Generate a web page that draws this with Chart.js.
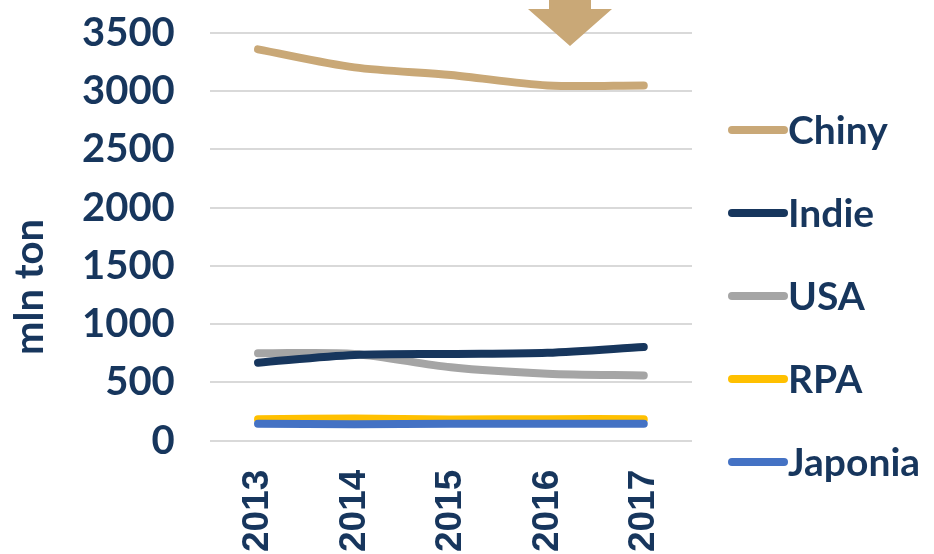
<!DOCTYPE html>
<html>
<head>
<meta charset="utf-8">
<script src="https://cdn.jsdelivr.net/npm/chart.js@4.4.1/dist/chart.umd.min.js"></script>
<style>
  html, body { margin: 0; padding: 0; background: #fff; }
  #wrap { width: 934px; height: 554px; position: relative; }
</style>
</head>
<body>
<div id="wrap"><canvas id="lineChart"></canvas></div>
<script>
// data
var years = ['2013', '2014', '2015', '2016', '2017'];
var chiny = [3360, 3205, 3140, 3050, 3050];
var indie = [670, 735, 745, 755, 805];
var usa = [750, 745, 630, 575, 560];
var rpa = [185, 190, 182, 185, 185];
var japonia = [145, 142, 145, 145, 145];
var yTicks = [0, 500, 1000, 1500, 2000, 2500, 3000, 3500];

var seriesNames = ['Chiny', 'Indie', 'USA', 'RPA', 'Japonia'];
var seriesColors = ['#C9A877', '#17365D', '#A5A5A5', '#FFC000', '#4472C4'];
var textColor = '#17365D';
var axisTitle = 'mln ton';

// legend on the right, axis title and the arrow at the top
var extras = {
    id: 'extras',
    afterDraw: function (chart) {
        var ctx = chart.ctx;
        var area = chart.chartArea;
        ctx.save();
        ctx.lineCap = 'round';
        ctx.lineWidth = 8;
        ctx.font = 'bold 39px Lato';
        ctx.textBaseline = 'middle';
        ctx.textAlign = 'left';
        var x0 = area.right + 40;
        for (var i = 0; i < chart.data.datasets.length; i++) {
            var ds = chart.data.datasets[i];
            var y = 130 + i * 83;
            ctx.strokeStyle = ds.borderColor;
            ctx.beginPath();
            ctx.moveTo(x0, y);
            ctx.lineTo(x0 + 52, y);
            ctx.stroke();
            ctx.fillStyle = textColor;
            ctx.fillText(ds.label, x0 + 56, y + 1);
        }

        // y axis title
        ctx.save();
        ctx.translate(43, 287);
        ctx.rotate(-Math.PI / 2);
        ctx.font = 'bold 40px Lato';
        ctx.textAlign = 'center';
        ctx.textBaseline = 'alphabetic';
        ctx.fillText(axisTitle, 0, 0);
        ctx.restore();

        // down arrow
        var xs = chart.scales.x;
        var step = xs.getPixelForValue(4) - xs.getPixelForValue(3);
        var cx = xs.getPixelForValue(3) + step * 0.235;
        ctx.fillStyle = '#C9A877';
        ctx.beginPath();
        ctx.moveTo(cx - 21, -2);
        ctx.lineTo(cx + 21, -2);
        ctx.lineTo(cx + 21, 9);
        ctx.lineTo(cx + 42, 9);
        ctx.lineTo(cx, 46);
        ctx.lineTo(cx - 42, 9);
        ctx.lineTo(cx - 21, 9);
        ctx.closePath();
        ctx.fill();
        ctx.restore();
    }
};

var seriesData = [chiny, indie, usa, rpa, japonia];
var datasets = [];
for (var i = 0; i < seriesNames.length; i++) {
    datasets.push({
        label: seriesNames[i],
        data: seriesData[i],
        borderColor: seriesColors[i],
        backgroundColor: seriesColors[i],
        borderWidth: 8,
        borderCapStyle: 'round',
        borderJoinStyle: 'round',
        pointRadius: 0,
        tension: 0.3,
        fill: false
    });
}
// draw order like the picture: Chiny on top, Japonia above RPA
datasets[0].order = 0;
datasets[1].order = 2;
datasets[2].order = 3;
datasets[3].order = 5;
datasets[4].order = 4;

var ctx = document.getElementById('lineChart');
var chart = new Chart(ctx, {
    type: 'line',
    data: { labels: years, datasets: datasets },
    plugins: [extras],
    options: {
        responsive: true,
        maintainAspectRatio: false,
        animation: false,
        layout: { padding: { top: 33, right: 242, bottom: -19, left: 78 } },
        plugins: {
            legend: { display: false },
            tooltip: { enabled: false }
        },
        scales: {
            x: {
                offset: true,
                grid: { display: false },
                border: { display: false },
                ticks: {
                    color: textColor,
                    font: { family: 'Liberation Sans', weight: 'bold', size: 37 },
                    minRotation: 90,
                    maxRotation: 90,
                    padding: 21
                }
            },
            y: {
                min: 0,
                max: 3500,
                afterBuildTicks: function (axis) {
                    axis.ticks = yTicks.map(function (v) { return { value: v }; });
                },
                grid: { color: '#D9D9D9', lineWidth: 2, drawTicks: true, tickLength: 31, tickColor: 'rgba(0,0,0,0)' },
                border: { display: false },
                ticks: {
                    color: textColor,
                    font: { family: 'Lato', weight: 'bold', size: 40 },
                    padding: 4,
                    callback: function (v) { return String(v); }
                }
            }
        }
    }
});
</script>
</body>
</html>
